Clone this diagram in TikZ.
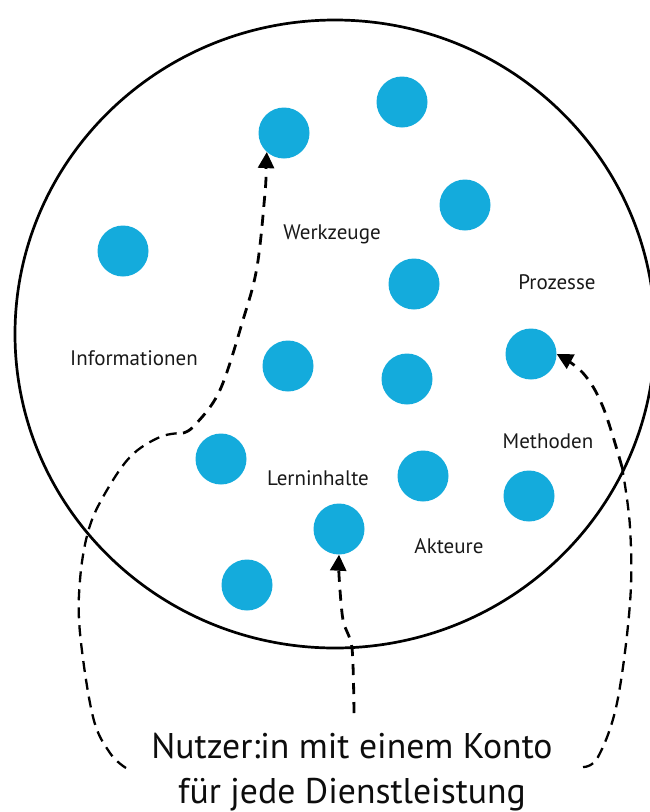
\documentclass[tikz,border=0pt]{standalone}
\usepackage{fontspec}
\setmainfont{PT Sans}
\usetikzlibrary{arrows.meta}
\definecolor{dotblue}{HTML}{14ABDC}
\tikzset{
  dot/.style={circle,fill=dotblue,draw=none,minimum size=51pt,inner sep=0pt},
  lab/.style={font=\fontsize{21}{25}\selectfont,text=black!90,inner sep=0pt},
  ring/.style={draw=black,line width=2.7pt},
  route/.style={draw=black,line width=2.8pt,dash pattern=on 11pt off 8pt},
  routeb/.style={draw=black,line width=2.3pt,dash pattern=on 11pt off 7pt},
  tip/.style={-{Triangle[length=16pt,width=16pt]}},
}
\begin{document}
\begin{tikzpicture}[x=1pt,y=-1pt]
\useasboundingbox (0,0) rectangle (649,812);
\node[draw=none,inner sep=0pt] (ringc) at (335,334) {};
\draw[ring] (ringc) ellipse [x radius=320,y radius=314];
\node[dot] (a) at (284,133) {};
\node[dot] (b) at (402,102) {};
\node[dot] (c) at (465,205) {};
\node[dot] (d) at (123,251) {};
\node[dot] (e) at (414,284) {};
\node[dot] (f) at (288,366) {};
\node[dot] (g) at (407,379) {};
\node[dot] (h) at (531,354) {};
\node[dot] (i) at (221,459) {};
\node[dot] (j) at (423,476) {};
\node[dot] (k) at (529,496) {};
\node[dot] (l) at (339,529) {};
\node[dot] (m) at (247,585) {};
\node[lab] (t1) at (332,234) {Werkzeuge};
\node[lab] (t2) at (557,282) {Prozesse};
\node[lab] (t3) at (134,358) {Informationen};
\node[lab] (t4) at (548,441) {Methoden};
\node[lab] (t5) at (318,478) {Lerninhalte};
\node[lab] (t6) at (449,546) {Akteure};
\node[inner sep=0pt,align=center,font=\fontsize{35.7}{45}\selectfont,text=black!95] (user) at (352,772) {Nutzer:in mit einem Konto\\für jede Dienstleistung};
\coordinate (s1) at (126,768);
\coordinate (s2) at (583,767);
\coordinate (s3) at (354,713);
\draw[route,tip] plot[smooth,tension=.5] coordinates {(s3) (352,648) (343,620) (339,575) (l.south)};
\draw[routeb] plot[smooth,tension=.6] coordinates {(s1) (110,753) (93,717) (80,633) (80,580) (88,532) (103,497) (130,457) (160,437) (183,433)};
\draw[route,tip] plot[smooth,tension=.6] coordinates {(183,433) (195,425) (220,390) (243,320) (257,267) (265,193) (266,170) (a.228)};
\draw[routeb] plot[smooth,tension=.6] coordinates {(s2) (598,757) (617,703) (630,603) (630,527) (622,467)};
\draw[route,tip] plot[smooth,tension=.6] coordinates {(622,467) (603,407) (583,373) (h.east)};
\end{tikzpicture}
\end{document}
